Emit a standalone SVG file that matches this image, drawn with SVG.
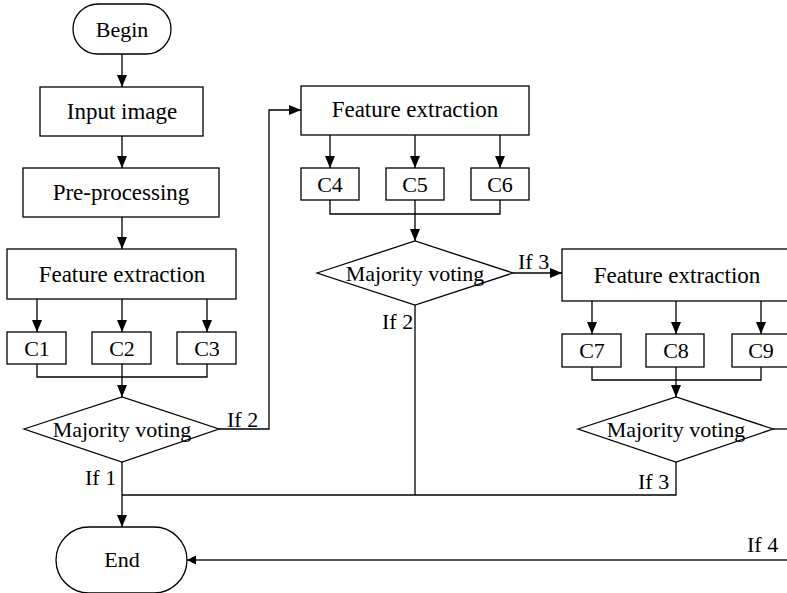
<svg xmlns="http://www.w3.org/2000/svg" width="787" height="593" viewBox="0 0 787 593">
<defs>
<marker id="arr" viewBox="0 0 12 10" refX="12" refY="5" markerWidth="12" markerHeight="10" markerUnits="userSpaceOnUse" orient="auto">
<path d="M0,0 L12,5 L0,10 z" fill="#000"/>
</marker>
<marker id="arrs" viewBox="0 0 10 10" refX="10" refY="5" markerWidth="9" markerHeight="10" markerUnits="userSpaceOnUse" orient="auto">
<path d="M0,0 L10,5 L0,10 z" fill="#000"/>
</marker>
<style>
.box{fill:#fff;stroke:#000;stroke-width:1.3}
.t{font-family:"Liberation Serif","Times New Roman",serif;font-size:22px;fill:#000;text-anchor:middle}
.b{font-size:23px}
.l{font-family:"Liberation Serif","Times New Roman",serif;font-size:22px;fill:#000}
.c{fill:none;stroke:#000;stroke-width:1.3}
</style>
</defs>
<rect width="787" height="593" fill="#fff"/>
<g id="connectors">
<path class="c" d="M122,54 V87" marker-end="url(#arr)"/>
<path class="c" d="M122,136 V168" marker-end="url(#arr)"/>
<path class="c" d="M122,217 V249" marker-end="url(#arr)"/>
<path class="c" d="M37,299 V332" marker-end="url(#arr)"/>
<path class="c" d="M122,299 V332" marker-end="url(#arr)"/>
<path class="c" d="M207,299 V332" marker-end="url(#arr)"/>
<path class="c" d="M37,364 V377 H207 V364"/>
<path class="c" d="M122,364 V397" marker-end="url(#arr)"/>
<path class="c" d="M219,429 H269 V110 H301" marker-end="url(#arr)"/>
<path class="c" d="M122,462 V527" marker-end="url(#arr)"/>
<path class="c" d="M330,135 V168" marker-end="url(#arr)"/>
<path class="c" d="M415,135 V168" marker-end="url(#arr)"/>
<path class="c" d="M500,135 V168" marker-end="url(#arr)"/>
<path class="c" d="M330,200 V214 H500 V200"/>
<path class="c" d="M415,200 V241" marker-end="url(#arr)"/>
<path class="c" d="M513,273 H562" marker-end="url(#arr)"/>
<path class="c" d="M415,305 V495"/>
<path class="c" d="M592,301 V334" marker-end="url(#arr)"/>
<path class="c" d="M676,301 V334" marker-end="url(#arr)"/>
<path class="c" d="M761,301 V334" marker-end="url(#arr)"/>
<path class="c" d="M592,367 V380 H761 V367"/>
<path class="c" d="M676,367 V397" marker-end="url(#arr)"/>
<path class="c" d="M773,429 H787"/>
<path class="c" d="M676,462 V495 H122"/>
<path d="M787,560 H187" fill="none" stroke="#555" stroke-width="2.2" marker-end="url(#arrs)"/>
<text class="l" x="227" y="427">If 2</text>
<text class="l" x="85" y="485">If 1</text>
<text class="l" x="382" y="329">If 2</text>
<text class="l" x="518" y="269">If 3</text>
<text class="l" x="638" y="489">If 3</text>
<text class="l" x="747" y="552">If 4</text>
</g>
<g id="begin"><rect class="box" x="73" y="4" width="98" height="50" rx="25" ry="25"/><text class="t" x="122" y="37">Begin</text></g>
<g id="input"><rect class="box" x="40" y="87" width="163" height="49"/><text class="t b" x="122" y="119">Input image</text></g>
<g id="pre"><rect class="box" x="23" y="168" width="196" height="49"/><text class="t b" x="121" y="200">Pre-processing</text></g>
<g id="fe1"><rect class="box" x="7" y="249" width="229" height="50"/><text class="t b" x="122" y="282">Feature extraction</text></g>
<g id="c1"><rect class="box" x="7" y="332" width="59" height="32"/><text class="t" x="37" y="356">C1</text></g>
<g id="c2"><rect class="box" x="92" y="332" width="59" height="32"/><text class="t" x="122" y="356">C2</text></g>
<g id="c3"><rect class="box" x="177" y="332" width="59" height="32"/><text class="t" x="207" y="356">C3</text></g>
<g id="mv1"><polygon class="box" points="24,429 122,397 219,429 122,462"/><text class="t" x="122" y="437">Majority voting</text></g>
<g id="fe2"><rect class="box" x="301" y="86" width="228" height="49"/><text class="t b" x="415" y="117">Feature extraction</text></g>
<g id="c4"><rect class="box" x="301" y="168" width="58" height="32"/><text class="t" x="330" y="192">C4</text></g>
<g id="c5"><rect class="box" x="386" y="168" width="58" height="32"/><text class="t" x="415" y="192">C5</text></g>
<g id="c6"><rect class="box" x="471" y="168" width="58" height="32"/><text class="t" x="500" y="192">C6</text></g>
<g id="mv2"><polygon class="box" points="317,273 415,241 513,273 415,305"/><text class="t" x="415" y="281">Majority voting</text></g>
<g id="fe3"><rect class="box" x="562" y="249" width="229" height="52"/><text class="t b" x="677" y="283">Feature extraction</text></g>
<g id="c7"><rect class="box" x="562" y="334" width="59" height="33"/><text class="t" x="592" y="358">C7</text></g>
<g id="c8"><rect class="box" x="646" y="334" width="58" height="33"/><text class="t" x="676" y="358">C8</text></g>
<g id="c9"><rect class="box" x="732" y="334" width="59" height="33"/><text class="t" x="761" y="358">C9</text></g>
<g id="mv3"><polygon class="box" points="578,429 676,397 773,429 676,462"/><text class="t" x="676" y="437">Majority voting</text></g>
<g id="end"><rect class="box" x="56" y="527" width="131" height="66" rx="33" ry="33"/><text class="t" x="122" y="567">End</text></g>
</svg>
